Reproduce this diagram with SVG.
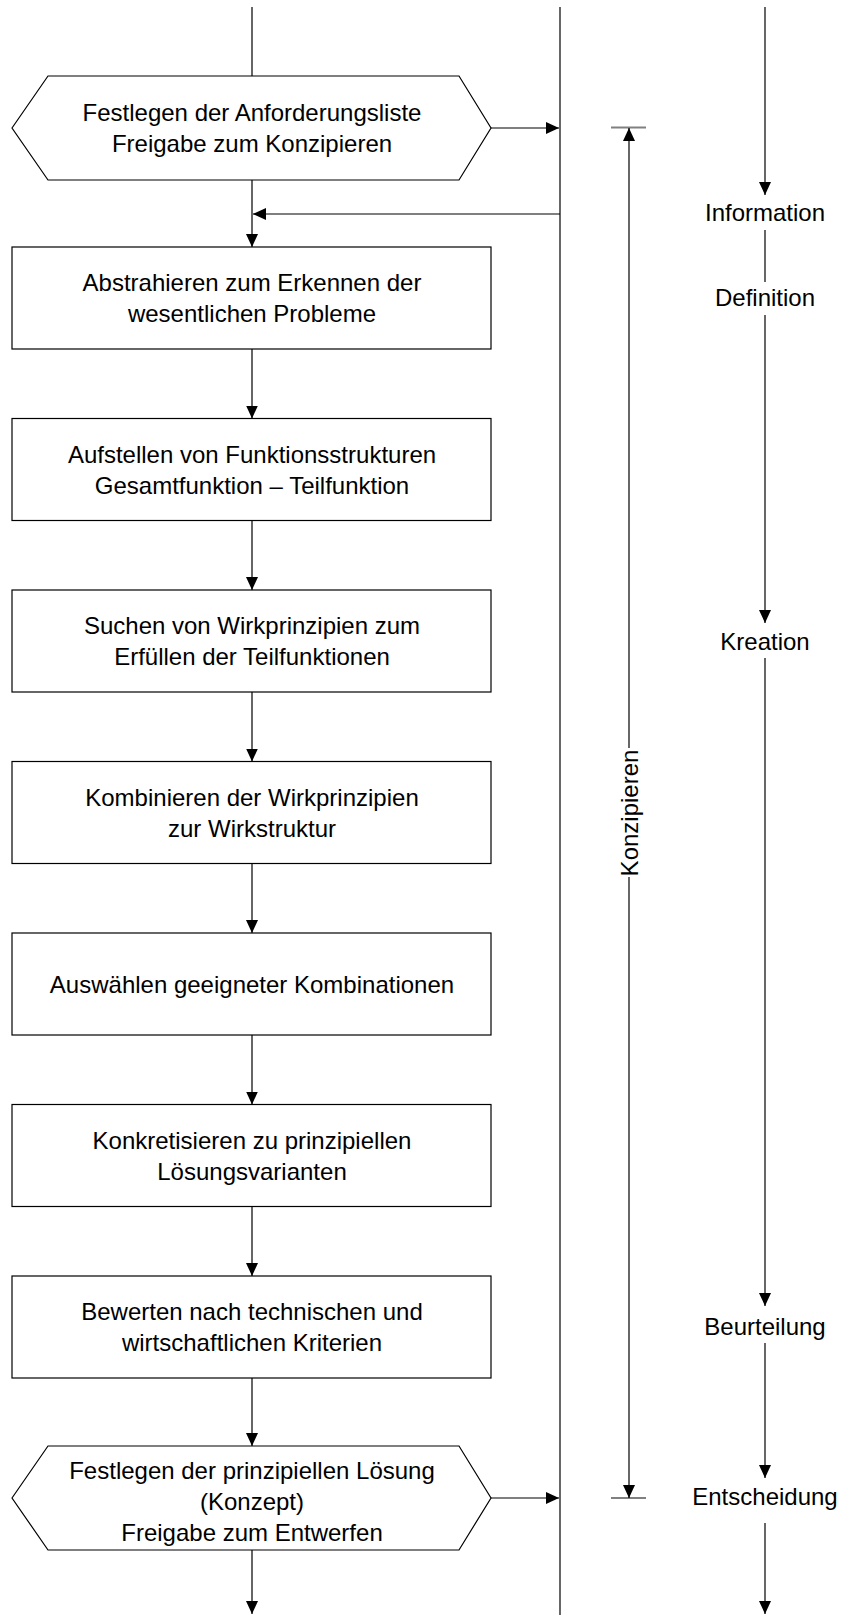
<svg xmlns="http://www.w3.org/2000/svg" width="842" height="1615" viewBox="0 0 842 1615">
  <defs>
    <style>
      .box { fill: #fff; stroke: #000; stroke-width: 1.2; }
      .ln { fill: none; stroke: #000; stroke-width: 1.2; }
      .tick { fill: none; stroke: #808080; stroke-width: 2; }
      .t { font-family: "Liberation Sans", Arial, sans-serif; font-size: 24px; fill: #000; text-anchor: middle; }
    </style>
    <marker id="arrow" markerUnits="userSpaceOnUse" viewBox="0 0 13 12" refX="13" refY="6" markerWidth="13" markerHeight="12" orient="auto">
      <path d="M0,0 L13,6 L0,12 z" fill="#000"/>
    </marker>
  </defs>
  <rect width="842" height="1615" fill="#fff"/>

  <!-- connectors -->
  <g id="connectors">
    <!-- main flow -->
    <line class="ln" x1="252" y1="7" x2="252" y2="76"/>
    <line class="ln" x1="252" y1="180" x2="252" y2="247" marker-end="url(#arrow)"/>
    <line class="ln" x1="252" y1="349" x2="252" y2="418.5" marker-end="url(#arrow)"/>
    <line class="ln" x1="252" y1="520.5" x2="252" y2="590" marker-end="url(#arrow)"/>
    <line class="ln" x1="252" y1="692" x2="252" y2="761.5" marker-end="url(#arrow)"/>
    <line class="ln" x1="252" y1="863.5" x2="252" y2="933" marker-end="url(#arrow)"/>
    <line class="ln" x1="252" y1="1035" x2="252" y2="1104.5" marker-end="url(#arrow)"/>
    <line class="ln" x1="252" y1="1206.5" x2="252" y2="1276" marker-end="url(#arrow)"/>
    <line class="ln" x1="252" y1="1378" x2="252" y2="1446" marker-end="url(#arrow)"/>
    <line class="ln" x1="252" y1="1550" x2="252" y2="1614" marker-end="url(#arrow)"/>

    <!-- information channel -->
    <line class="ln" x1="560" y1="7" x2="560" y2="1615"/>
    <line class="ln" x1="491" y1="128" x2="559" y2="128" marker-end="url(#arrow)"/>
    <line class="ln" x1="560" y1="214" x2="253" y2="214" marker-end="url(#arrow)"/>
    <line class="ln" x1="491" y1="1498" x2="559" y2="1498" marker-end="url(#arrow)"/>

    <!-- phase dimension -->
    <line class="tick" x1="611" y1="127.5" x2="646" y2="127.5"/>
    <line class="tick" x1="611" y1="1498" x2="646" y2="1498"/>
    <line class="ln" x1="629" y1="748" x2="629" y2="128" marker-end="url(#arrow)"/>
    <line class="ln" x1="629" y1="877" x2="629" y2="1498" marker-end="url(#arrow)"/>

    <!-- solution process steps -->
    <line class="ln" x1="765" y1="7" x2="765" y2="195" marker-end="url(#arrow)"/>
    <line class="ln" x1="765" y1="230" x2="765" y2="282"/>
    <line class="ln" x1="765" y1="315" x2="765" y2="623" marker-end="url(#arrow)"/>
    <line class="ln" x1="765" y1="658" x2="765" y2="1306" marker-end="url(#arrow)"/>
    <line class="ln" x1="765" y1="1343" x2="765" y2="1478" marker-end="url(#arrow)"/>
    <line class="ln" x1="765" y1="1523" x2="765" y2="1614" marker-end="url(#arrow)"/>
  </g>

  <!-- flow nodes -->
  <g id="anforderungsliste">
    <polygon class="box" points="12,128 48,76 459,76 491,128 459,180 48,180"/>
    <text class="t" x="252" y="120.5">Festlegen der Anforderungsliste</text>
    <text class="t" x="252" y="151.5">Freigabe zum Konzipieren</text>
  </g>
  <g id="abstrahieren">
    <rect class="box" x="12" y="247" width="479" height="102"/>
    <text class="t" x="252" y="291">Abstrahieren zum Erkennen der</text>
    <text class="t" x="252" y="322">wesentlichen Probleme</text>
  </g>
  <g id="funktionsstrukturen">
    <rect class="box" x="12" y="418.5" width="479" height="102"/>
    <text class="t" x="252" y="462.5">Aufstellen von Funktionsstrukturen</text>
    <text class="t" x="252" y="493.5">Gesamtfunktion – Teilfunktion</text>
  </g>
  <g id="wirkprinzipien">
    <rect class="box" x="12" y="590" width="479" height="102"/>
    <text class="t" x="252" y="634">Suchen von Wirkprinzipien zum</text>
    <text class="t" x="252" y="665">Erfüllen der Teilfunktionen</text>
  </g>
  <g id="wirkstruktur">
    <rect class="box" x="12" y="761.5" width="479" height="102"/>
    <text class="t" x="252" y="805.5">Kombinieren der Wirkprinzipien</text>
    <text class="t" x="252" y="836.5">zur Wirkstruktur</text>
  </g>
  <g id="auswaehlen">
    <rect class="box" x="12" y="933" width="479" height="102"/>
    <text class="t" x="252" y="992.5">Auswählen geeigneter Kombinationen</text>
  </g>
  <g id="konkretisieren">
    <rect class="box" x="12" y="1104.5" width="479" height="102"/>
    <text class="t" x="252" y="1148.5">Konkretisieren zu prinzipiellen</text>
    <text class="t" x="252" y="1179.5">Lösungsvarianten</text>
  </g>
  <g id="bewerten">
    <rect class="box" x="12" y="1276" width="479" height="102"/>
    <text class="t" x="252" y="1320">Bewerten nach technischen und</text>
    <text class="t" x="252" y="1351">wirtschaftlichen Kriterien</text>
  </g>
  <g id="konzept">
    <polygon class="box" points="12,1498 48,1446 459,1446 491,1498 459,1550 48,1550"/>
    <text class="t" x="252" y="1479">Festlegen der prinzipiellen Lösung</text>
    <text class="t" x="252" y="1510">(Konzept)</text>
    <text class="t" x="252" y="1541">Freigabe zum Entwerfen</text>
  </g>

  <!-- phase label -->
  <g id="konzipieren">
    <text class="t" transform="translate(637.5,813) rotate(-90)" x="0" y="0">Konzipieren</text>
  </g>

  <!-- process step labels -->
  <g id="information"><text class="t" x="765" y="221">Information</text></g>
  <g id="definition"><text class="t" x="765" y="306">Definition</text></g>
  <g id="kreation"><text class="t" x="765" y="649.5">Kreation</text></g>
  <g id="beurteilung"><text class="t" x="765" y="1335">Beurteilung</text></g>
  <g id="entscheidung"><text class="t" x="765" y="1505">Entscheidung</text></g>
</svg>
